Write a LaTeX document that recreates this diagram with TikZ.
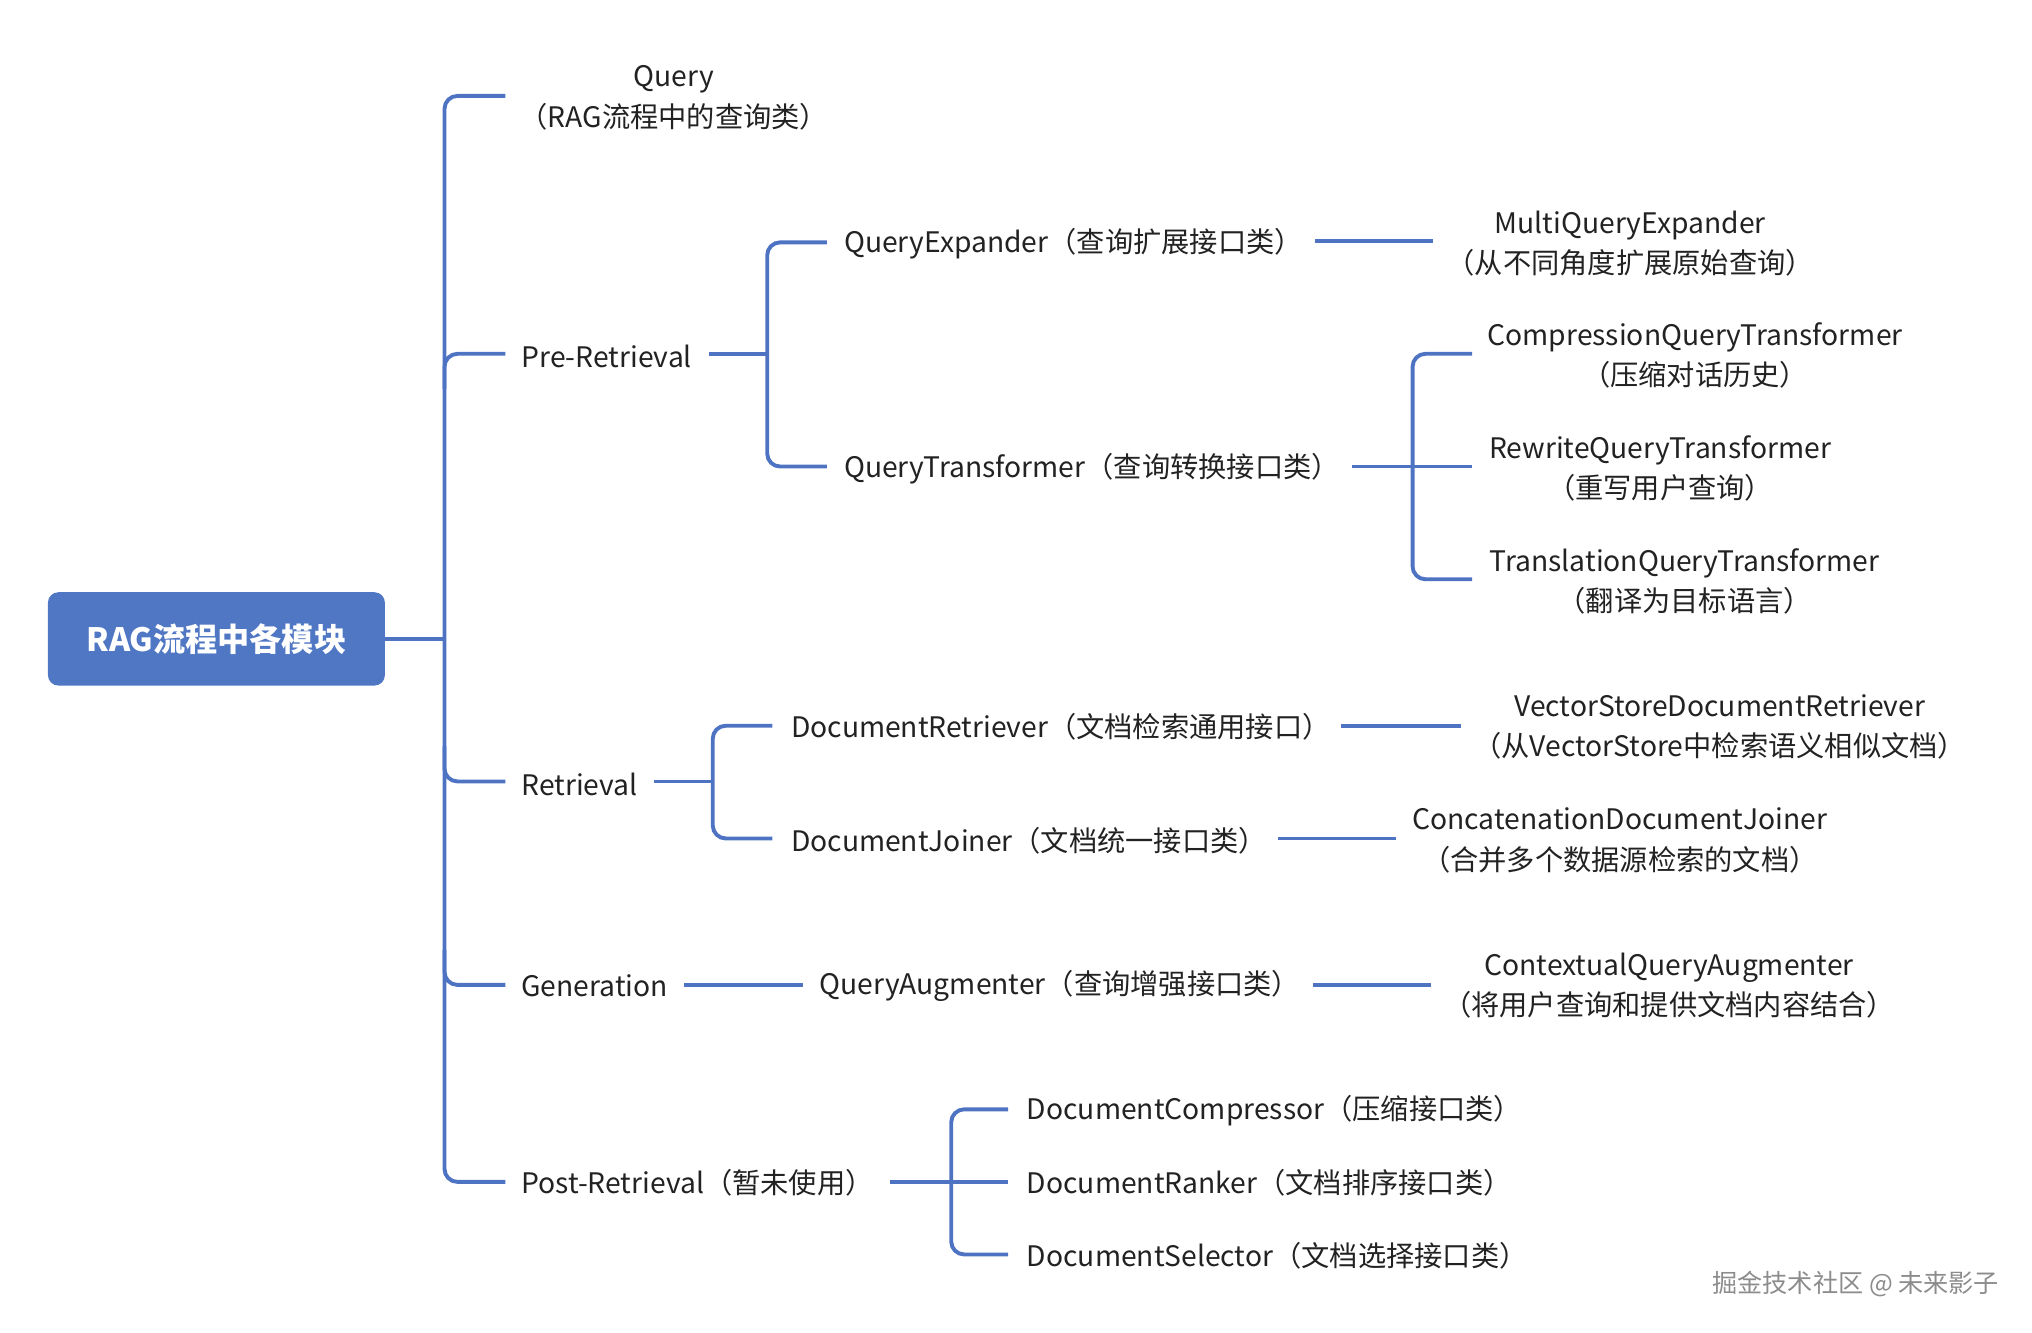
\documentclass[tikz,border=0pt]{standalone}
\usepackage{fontspec}
\setmainfont{Noto Sans CJK SC}
\begin{document}
\begin{tikzpicture}[x=0.5pt,y=-0.5pt,
  conn/.style={draw=linec,line width=1.5pt,rounded corners=5pt},
  lbl/.style={inner sep=0pt,text=txt,font=\fontsize{10.9}{15.5}\selectfont,anchor=west},
  lbl2/.style={inner sep=0pt,text=txt,font=\fontsize{10.9}{15.5}\selectfont,align=center},
  rootbox/.style={fill=boxc,rounded corners=4pt,minimum width=130pt,minimum height=36pt,text=white,font=\fontsize{12.4}{15}\selectfont\bfseries}]
\definecolor{linec}{HTML}{4E73C2}
\definecolor{boxc}{HTML}{5077C4}
\definecolor{txt}{HTML}{222222}
\useasboundingbox (0,0) rectangle (1568,1027.9);
% root
\node[rootbox] (root) at (167,493) {RAG流程中各模块};
% level 1
\node[lbl2] (query) at (520,75.5) {Query\\（RAG流程中的查询类）};
\node[lbl] (pre) at (402,275) {Pre-Retrieval};
\node[lbl] (ret) at (402,605) {Retrieval};
\node[lbl] (gen) at (402,761) {Generation};
\node[lbl] (post) at (402,913) {Post-Retrieval（暂未使用）};
% level 2
\node[lbl] (qe) at (651,188) {QueryExpander（查询扩展接口类）};
\node[lbl] (qt) at (651,362) {QueryTransformer（查询转换接口类）};
\node[lbl] (dr) at (610,561) {DocumentRetriever（文档检索通用接口）};
\node[lbl] (dj) at (610,649) {DocumentJoiner（文档统一接口类）};
\node[lbl] (qa) at (632,761) {QueryAugmenter（查询增强接口类）};
\node[lbl] (dc) at (792,857) {DocumentCompressor（压缩接口类）};
\node[lbl] (drk) at (792,913) {DocumentRanker（文档排序接口类）};
\node[lbl] (ds) at (792,969) {DocumentSelector（文档选择接口类）};
% level 3
\node[lbl2] (mqe) at (1258,188) {MultiQueryExpander\\（从不同角度扩展原始查询）};
\node[lbl2] (cqt) at (1308,274.5) {CompressionQueryTransformer\\（压缩对话历史）};
\node[lbl2] (rqt) at (1281,361.5) {RewriteQueryTransformer\\（重写用户查询）};
\node[lbl2] (tqt) at (1300,448.5) {TranslationQueryTransformer\\（翻译为目标语言）};
\node[lbl2] (vsr) at (1327,561) {VectorStoreDocumentRetriever\\（从VectorStore中检索语义相似文档）};
\node[lbl2] (cdj) at (1250,648.5) {ConcatenationDocumentJoiner\\（合并多个数据源检索的文档）};
\node[lbl2] (cqa) at (1288,760.5) {ContextualQueryAugmenter\\（将用户查询和提供文档内容结合）};
% watermark
\node[inner sep=0pt,text=black!45,font=\fontsize{9.7}{12}\selectfont] (wm) at (1432,991) {掘金技术社区 @ 未来影子};
% trunk coordinates
\coordinate (tq) at (390,74);
\coordinate (tp) at (390,273);
\coordinate (tr) at (390,603);
\coordinate (tg) at (390,760);
\coordinate (tpo) at (390,912);
\draw[conn] (root.east) -- (343,493);
\draw[conn] (tq) -- (343,74) -- (343,912) -- (tpo);
\draw[conn] (343,300) -- (343,273) -- (tp);
\draw[conn] (343,576) -- (343,603) -- (tr);
\draw[conn] (343,733) -- (343,760) -- (tg);
% pre-retrieval subtree
\coordinate (pe) at (547,273);
\coordinate (qeL) at (638,187);
\coordinate (qtL) at (638,360);
\draw[conn] (pe) -- (592,273);
\draw[conn] (qeL) -- (592,187) -- (592,360) -- (qtL);
\coordinate (qeR) at (1015,186);
\coordinate (mqeL) at (1106,186);
\draw[conn] (qeR) -- (mqeL);
\coordinate (qtR) at (1043,360);
\coordinate (cqtL) at (1136,273);
\coordinate (rqtL) at (1136,360);
\coordinate (tqtL) at (1136,447);
\draw[conn] (qtR) -- (rqtL);
\draw[conn] (cqtL) -- (1090,273) -- (1090,447) -- (tqtL);
% retrieval subtree
\coordinate (re) at (505,603);
\coordinate (drL) at (596,560);
\coordinate (djL) at (596,647);
\draw[conn] (re) -- (550,603);
\draw[conn] (drL) -- (550,560) -- (550,647) -- (djL);
\coordinate (drR) at (1035,560);
\coordinate (vsrL) at (1127,560);
\draw[conn] (drR) -- (vsrL);
\coordinate (djR) at (986,647);
\coordinate (cdjL) at (1077,647);
\draw[conn] (djR) -- (cdjL);
% generation
\coordinate (ge) at (528,760);
\coordinate (qaL) at (620,760);
\draw[conn] (ge) -- (qaL);
\coordinate (qaR) at (1013,760);
\coordinate (cqaL) at (1104,760);
\draw[conn] (qaR) -- (cqaL);
% post-retrieval
\coordinate (poe) at (687,912);
\coordinate (dcL) at (778,856);
\coordinate (drkL) at (778,912);
\coordinate (dsL) at (778,968);
\draw[conn] (poe) -- (drkL);
\draw[conn] (dcL) -- (734,856) -- (734,968) -- (dsL);
\end{tikzpicture}
\end{document}
